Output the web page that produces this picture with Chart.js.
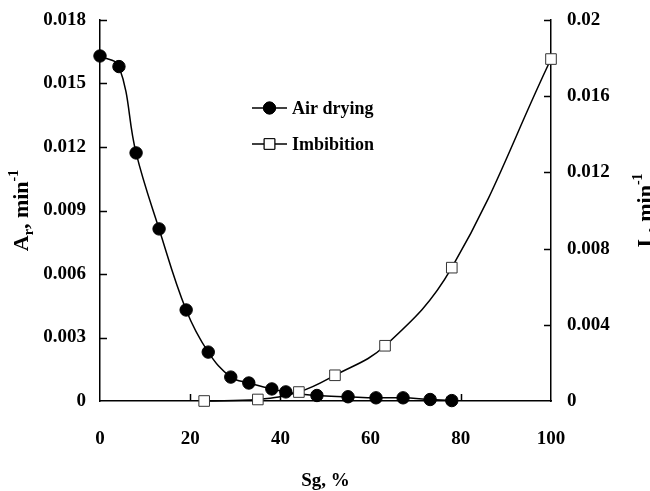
<!DOCTYPE html>
<html>
<head>
<meta charset="utf-8">
<script src="https://cdn.jsdelivr.net/npm/chart.js@4.4.1/dist/chart.umd.min.js"></script>
<style>
  html, body { margin: 0; padding: 0; background: #fff; }
  #wrap { width: 650px; height: 491px; position: relative; }
</style>
</head>
<body>
<div id="wrap"><canvas id="chart"></canvas></div>
<script>
// Sg, % and rate values
const airSg = [0, 4.2, 8, 13.1, 19.1, 24, 29, 33, 38.1, 41.2, 48.1, 55, 61.2, 67.2, 73.2, 78];
const airRate = [0.0163, 0.0158, 0.01172, 0.00813, 0.0043, 0.00231, 0.00113, 0.00085, 0.00057, 0.00043, 0.00026, 0.0002, 0.00015, 0.00015, 0.00007, 0.00002];
const imbSg = [23.1, 35, 44.1, 52.1, 63.2, 78, 100];
const imbRate = [0, 0.00008, 0.00047, 0.00135, 0.0029, 0.0070, 0.01795];

const xTicks = [0, 20, 40, 60, 80, 100];
const leftTicks = [0, 0.003, 0.006, 0.009, 0.012, 0.015, 0.018];
const rightTicks = [0, 0.004, 0.008, 0.012, 0.016, 0.02];

const FONT = '"Liberation Serif", "Times New Roman", serif';
const tickFont = { family: FONT, size: 19, weight: 'bold' };

function toPoints(xs, ys) {
  return xs.map((x, i) => ({ x: x, y: ys[i] }));
}

// draws "main + sub + rest + sup" text, optionally rotated
function drawRich(ctx, parts, cx, cy, rot) {
  ctx.save();
  ctx.translate(cx, cy);
  ctx.rotate(rot);
  ctx.fillStyle = '#000';
  ctx.textBaseline = 'alphabetic';
  ctx.textAlign = 'left';
  let total = 0;
  parts.forEach(p => {
    ctx.font = 'bold ' + p.size + 'px ' + FONT;
    p.w = ctx.measureText(p.t).width;
    total += p.w;
  });
  let x = -total / 2;
  parts.forEach(p => {
    ctx.font = 'bold ' + p.size + 'px ' + FONT;
    ctx.fillText(p.t, x, p.dy);
    x += p.w;
  });
  ctx.restore();
}

const decorPlugin = {
  id: 'decor',
  afterDraw(chart) {
    const ctx = chart.ctx;
    const xs = chart.scales.x, yl = chart.scales.y, yr = chart.scales.y2;
    const area = chart.chartArea;

    // inward tick marks
    ctx.save();
    ctx.strokeStyle = '#000';
    ctx.lineWidth = 1.5;
    ctx.beginPath();
    leftTicks.forEach(v => {
      if (v === 0) return;
      const y = Math.round(yl.getPixelForValue(v)) + 0.5;
      ctx.moveTo(area.left, y);
      ctx.lineTo(area.left + 7, y);
    });
    rightTicks.forEach(v => {
      if (v === 0) return;
      const y = Math.round(yr.getPixelForValue(v)) + 0.5;
      ctx.moveTo(area.right, y);
      ctx.lineTo(area.right - 7, y);
    });
    xTicks.forEach(v => {
      if (v === 0 || v === 100) return;
      const x = Math.round(xs.getPixelForValue(v)) + 0.5;
      ctx.moveTo(x, area.bottom);
      ctx.lineTo(x, area.bottom - 7);
    });
    ctx.stroke();
    ctx.restore();

    // axis titles
    drawRich(ctx, [
      { t: 'A', size: 22, dy: 0 },
      { t: 'r', size: 14, dy: 5 },
      { t: ', min', size: 22, dy: 0 },
      { t: '-1', size: 14, dy: -10 }
    ], 28, (area.top + area.bottom) / 2, -Math.PI / 2);

    drawRich(ctx, [
      { t: 'I', size: 22, dy: 0 },
      { t: 'r', size: 14, dy: 5 },
      { t: ', min', size: 22, dy: 0 },
      { t: '-1', size: 14, dy: -10 }
    ], 652, (area.top + area.bottom) / 2, -Math.PI / 2);

    drawRich(ctx, [{ t: 'Sg, %', size: 19, dy: 0 }],
      (area.left + area.right) / 2, 486, 0);

    // legend
    const items = [
      { label: 'Air drying', style: 'circle', fill: '#000', r: 6, y: 108 },
      { label: 'Imbibition', style: 'rect', fill: '#fff', r: 7.5, y: 144 }
    ];
    items.forEach(it => {
      ctx.save();
      ctx.strokeStyle = '#000';
      ctx.lineWidth = 1.5;
      ctx.beginPath();
      ctx.moveTo(252, it.y);
      ctx.lineTo(287, it.y);
      ctx.stroke();
      ctx.fillStyle = it.fill;
      ctx.lineWidth = 1;
      Chart.helpers.drawPoint(ctx, { pointStyle: it.style, radius: it.r, borderWidth: 1 }, 269.5, it.y);
      ctx.fill();
      ctx.stroke();
      ctx.fillStyle = '#000';
      ctx.font = 'bold 18px ' + FONT;
      ctx.textBaseline = 'middle';
      ctx.fillText(it.label, 292, it.y + 1);
      ctx.restore();
    });
  }
};

const ctx = document.getElementById('chart').getContext('2d');
new Chart(ctx, {
  type: 'line',
  data: {
    datasets: [
      {
        label: 'Imbibition',
        data: toPoints(imbSg, imbRate),
        yAxisID: 'y2',
        borderColor: '#000',
        borderWidth: 1.5,
        tension: 0.4,
        pointStyle: 'rect',
        pointRadius: 7.5,
        pointBackgroundColor: '#fff',
        pointBorderColor: '#333',
        pointBorderWidth: 1,
        clip: false,
        order: 0
      },
      {
        label: 'Air drying',
        data: toPoints(airSg, airRate),
        yAxisID: 'y',
        borderColor: '#000',
        borderWidth: 1.5,
        tension: 0.4,
        pointStyle: 'circle',
        pointRadius: 6.2,
        pointBackgroundColor: '#000',
        pointBorderColor: '#000',
        pointBorderWidth: 1,
        clip: false,
        order: 1
      }
    ]
  },
  options: {
    responsive: true,
    maintainAspectRatio: false,
    animation: false,
    events: [],
    layout: { padding: { top: 20, left: 0, right: 0, bottom: 0 } },
    plugins: {
      legend: { display: false },
      tooltip: { enabled: false }
    },
    scales: {
      x: {
        type: 'linear',
        min: 0,
        max: 100,
        afterBuildTicks: s => { s.ticks = xTicks.map(v => ({ value: v })); },
        afterFit: s => { s.height = 90; s.paddingLeft = 0; s.paddingRight = 0; },
        grid: { display: false, drawTicks: false },
        border: { display: true, color: '#000', width: 1.5 },
        ticks: { font: tickFont, color: '#000', padding: 27, maxRotation: 0, callback: v => String(v) }
      },
      y: {
        type: 'linear',
        position: 'left',
        min: 0,
        max: 0.018,
        afterBuildTicks: s => { s.ticks = leftTicks.map(v => ({ value: v })); },
        afterFit: s => { s.width = 100; s.paddingTop = 0; s.paddingBottom = 0; },
        grid: { display: false, drawTicks: false },
        border: { display: true, color: '#000', width: 1.5 },
        ticks: { font: tickFont, color: '#000', padding: 14, callback: v => String(v) }
      },
      y2: {
        type: 'linear',
        position: 'right',
        min: 0,
        max: 0.02,
        afterBuildTicks: s => { s.ticks = rightTicks.map(v => ({ value: v })); },
        afterFit: s => { s.width = 99; s.paddingTop = 0; s.paddingBottom = 0; },
        grid: { display: false, drawTicks: false },
        border: { display: true, color: '#000', width: 1.5 },
        ticks: { font: tickFont, color: '#000', padding: 16, callback: v => String(v) }
      }
    }
  },
  plugins: [decorPlugin]
});
</script>
</body>
</html>
